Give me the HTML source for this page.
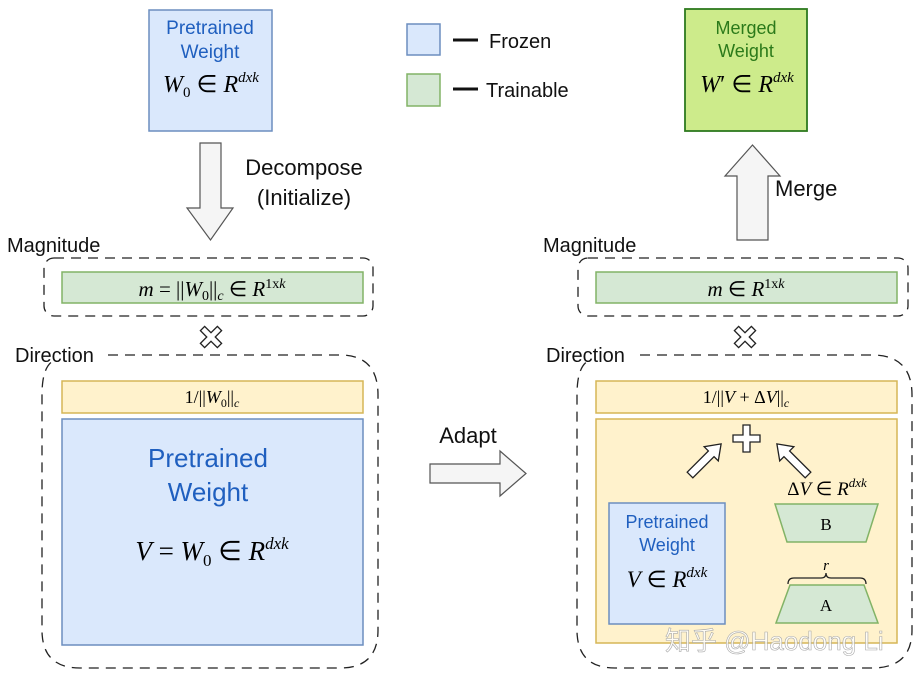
<!DOCTYPE html>
<html><head><meta charset="utf-8"><style>
html,body{margin:0;padding:0;background:#fff;}
svg{display:block;}
.s{font-family:"Liberation Sans",sans-serif;}
.m{font-family:"Liberation Serif",serif;font-style:italic;}
.r{font-family:"Liberation Serif",serif;}
</style></head><body>
<svg width="923" height="684" viewBox="0 0 923 684" xmlns="http://www.w3.org/2000/svg">
<rect x="149" y="10" width="123" height="121" fill="#dae8fc" stroke="#6c8ebf" stroke-width="1.5"/>
<text x="210" y="34" text-anchor="middle" class="s" font-size="19" fill="#1f5fbf">Pretrained</text>
<text x="210" y="58" text-anchor="middle" class="s" font-size="19" fill="#1f5fbf">Weight</text>
<text x="211" y="92" text-anchor="middle" font-size="24"><tspan class="m">W</tspan><tspan class="r" font-size="15" dy="5">0</tspan><tspan class="r" dy="-5"> ∈ </tspan><tspan class="m">R</tspan><tspan class="m" font-size="15" dy="-10">dxk</tspan></text>
<path d="M200,143 H221 V208 H233 L210.5,240 L187,208 H200 Z" fill="#f5f5f5" stroke="#555" stroke-width="1.2"/>
<text x="304" y="175" text-anchor="middle" class="s" font-size="22" fill="#111">Decompose</text>
<text x="304" y="205" text-anchor="middle" class="s" font-size="22" fill="#111">(Initialize)</text>
<rect x="407" y="24" width="33" height="31" fill="#dae8fc" stroke="#6c8ebf" stroke-width="1.5"/>
<rect x="407" y="74" width="33" height="32" fill="#d5e8d4" stroke="#82b366" stroke-width="1.5"/>
<line x1="453" y1="40" x2="478" y2="40" stroke="#111" stroke-width="3"/>
<line x1="453" y1="89" x2="478" y2="89" stroke="#111" stroke-width="3"/>
<text x="489" y="48" class="s" font-size="20" fill="#111">Frozen</text>
<text x="486" y="97" class="s" font-size="20" fill="#111">Trainable</text>
<rect x="685" y="9" width="122" height="122" fill="#cdeb8b" stroke="#2d7a1f" stroke-width="1.8"/>
<text x="746" y="34" text-anchor="middle" class="s" font-size="18" fill="#2b7a1a">Merged</text>
<text x="746" y="57" text-anchor="middle" class="s" font-size="18" fill="#2b7a1a">Weight</text>
<text x="747" y="92" text-anchor="middle" font-size="24"><tspan class="m">W</tspan><tspan class="r">′ ∈ </tspan><tspan class="m">R</tspan><tspan class="m" font-size="15" dy="-10">dxk</tspan></text>
<path d="M737,240 V176 H725 L752.5,145 L780,176 H768 V240 Z" fill="#f5f5f5" stroke="#555" stroke-width="1.2"/>
<text x="775" y="196" class="s" font-size="22" fill="#111">Merge</text>

<text x="7" y="252" class="s" font-size="20" fill="#111">Magnitude</text>
<rect x="44" y="258" width="329" height="58" rx="10" fill="none" stroke="#222" stroke-width="1.3" stroke-dasharray="10,7"/>
<rect x="62" y="272" width="301" height="31" fill="#d5e8d4" stroke="#82b366" stroke-width="1.5"/>
<text x="212" y="296" text-anchor="middle" font-size="21"><tspan class="m">m</tspan><tspan class="r"> = ||</tspan><tspan class="m">W</tspan><tspan class="r" font-size="14" dy="4">0</tspan><tspan class="r" dy="-4">||</tspan><tspan class="m" font-size="14" dy="4">c</tspan><tspan class="r" dy="-4"> ∈ </tspan><tspan class="m">R</tspan><tspan class="r" font-size="14" dy="-8">1x</tspan><tspan class="m" font-size="14">k</tspan></text>
<g transform="translate(211,337) rotate(45)" fill="#fff" stroke="#222" stroke-width="1.3"><path d="M-3,-12 H3 V-3 H12 V3 H3 V12 H-3 V3 H-12 V-3 H-3 Z"/></g>
<text x="15" y="362" class="s" font-size="20" fill="#111">Direction</text>
<path d="M108,355 H340 Q378,355 378,395 V630 Q378,668 340,668 H80 Q42,668 42,630 V395 Q42,365 55,360" fill="none" stroke="#222" stroke-width="1.3" stroke-dasharray="10,7"/>
<rect x="62" y="381" width="301" height="32" fill="#fff2cc" stroke="#d6b656" stroke-width="1.5"/>
<text x="212" y="403" text-anchor="middle" font-size="18"><tspan class="r">1/||</tspan><tspan class="m">W</tspan><tspan class="r" font-size="12" dy="4">0</tspan><tspan class="r" dy="-4">||</tspan><tspan class="m" font-size="12" dy="4">c</tspan></text>
<rect x="62" y="419" width="301" height="226" fill="#dae8fc" stroke="#6c8ebf" stroke-width="1.5"/>
<text x="208" y="467" text-anchor="middle" class="s" font-size="26" fill="#1f5fbf">Pretrained</text>
<text x="208" y="501" text-anchor="middle" class="s" font-size="26" fill="#1f5fbf">Weight</text>
<text x="212" y="560" text-anchor="middle" font-size="27"><tspan class="m">V</tspan><tspan class="r"> = </tspan><tspan class="m">W</tspan><tspan class="r" font-size="17" dy="6">0</tspan><tspan class="r" dy="-6"> ∈ </tspan><tspan class="m">R</tspan><tspan class="m" font-size="17" dy="-11">dxk</tspan></text>

<text x="468" y="443" text-anchor="middle" class="s" font-size="22" fill="#111">Adapt</text>
<path d="M430,464 H500 V451 L526,473.5 L500,496 V483 H430 Z" fill="#f5f5f5" stroke="#555" stroke-width="1.2"/>

<text x="543" y="252" class="s" font-size="20" fill="#111">Magnitude</text>
<rect x="578" y="258" width="330" height="58" rx="10" fill="none" stroke="#222" stroke-width="1.3" stroke-dasharray="10,7"/>
<rect x="596" y="272" width="301" height="31" fill="#d5e8d4" stroke="#82b366" stroke-width="1.5"/>
<text x="746" y="296" text-anchor="middle" font-size="21"><tspan class="m">m</tspan><tspan class="r"> ∈ </tspan><tspan class="m">R</tspan><tspan class="r" font-size="14" dy="-8">1x</tspan><tspan class="m" font-size="14">k</tspan></text>
<g transform="translate(745,337) rotate(45)" fill="#fff" stroke="#222" stroke-width="1.3"><path d="M-3,-12 H3 V-3 H12 V3 H3 V12 H-3 V3 H-12 V-3 H-3 Z"/></g>
<text x="546" y="362" class="s" font-size="20" fill="#111">Direction</text>
<path d="M640,355 H872 Q912,355 912,395 V630 Q912,668 872,668 H615 Q577,668 577,630 V395 Q577,365 590,360" fill="none" stroke="#222" stroke-width="1.3" stroke-dasharray="10,7"/>
<rect x="596" y="381" width="301" height="32" fill="#fff2cc" stroke="#d6b656" stroke-width="1.5"/>
<text x="746" y="403" text-anchor="middle" font-size="18"><tspan class="r">1/||</tspan><tspan class="m">V</tspan><tspan class="r"> + Δ</tspan><tspan class="m">V</tspan><tspan class="r">||</tspan><tspan class="m" font-size="12" dy="4">c</tspan></text>
<rect x="596" y="419" width="301" height="224" fill="#fff2cc" stroke="#d6b656" stroke-width="1.5"/>
<path d="M743,425 H750 V435 H760 V442 H750 V452 H743 V442 H733 V435 H743 Z" fill="#fff" stroke="#222" stroke-width="1.3"/>
<g transform="translate(690,475) rotate(-45)"><path d="M0,-4 H30 V-10 L44,0 L30,10 V4 H0 Z" fill="#fff" stroke="#222" stroke-width="1.3"/></g>
<g transform="translate(808,475) rotate(-135)"><path d="M0,-4 H30 V-10 L44,0 L30,10 V4 H0 Z" fill="#fff" stroke="#222" stroke-width="1.3"/></g>
<text x="827" y="495" text-anchor="middle" font-size="19"><tspan class="r">Δ</tspan><tspan class="m">V</tspan><tspan class="r"> ∈ </tspan><tspan class="m">R</tspan><tspan class="m" font-size="13" dy="-8">dxk</tspan></text>
<rect x="609" y="503" width="116" height="121" fill="#dae8fc" stroke="#6c8ebf" stroke-width="1.5"/>
<text x="667" y="528" text-anchor="middle" class="s" font-size="18" fill="#1f5fbf">Pretrained</text>
<text x="667" y="551" text-anchor="middle" class="s" font-size="18" fill="#1f5fbf">Weight</text>
<text x="667" y="587" text-anchor="middle" font-size="23"><tspan class="m">V</tspan><tspan class="r"> ∈ </tspan><tspan class="m">R</tspan><tspan class="m" font-size="15" dy="-10">dxk</tspan></text>
<path d="M775,504 H878 L866,542 H787 Z" fill="#d5e8d4" stroke="#82b366" stroke-width="1.5"/>
<text x="826" y="530" text-anchor="middle" class="r" font-size="17">B</text>
<text x="826" y="570" text-anchor="middle" class="m" font-size="15">r</text>
<path d="M788,584 Q788,578 794,578 H821 Q826,578 826,573 Q826,578 831,578 H860 Q866,578 866,584" fill="none" stroke="#222" stroke-width="1.3"/>
<path d="M790,585 H864 L878,623 H776 Z" fill="#d5e8d4" stroke="#82b366" stroke-width="1.5"/>
<text x="826" y="611" text-anchor="middle" class="r" font-size="17">A</text>
<text x="665" y="650" font-family="'Liberation Sans','Noto Sans CJK SC',sans-serif" font-size="26" fill="#ffffff" fill-opacity="0.8" stroke="#aaa" stroke-width="0.6">知乎 @Haodong Li</text>
</svg>
</body></html>
